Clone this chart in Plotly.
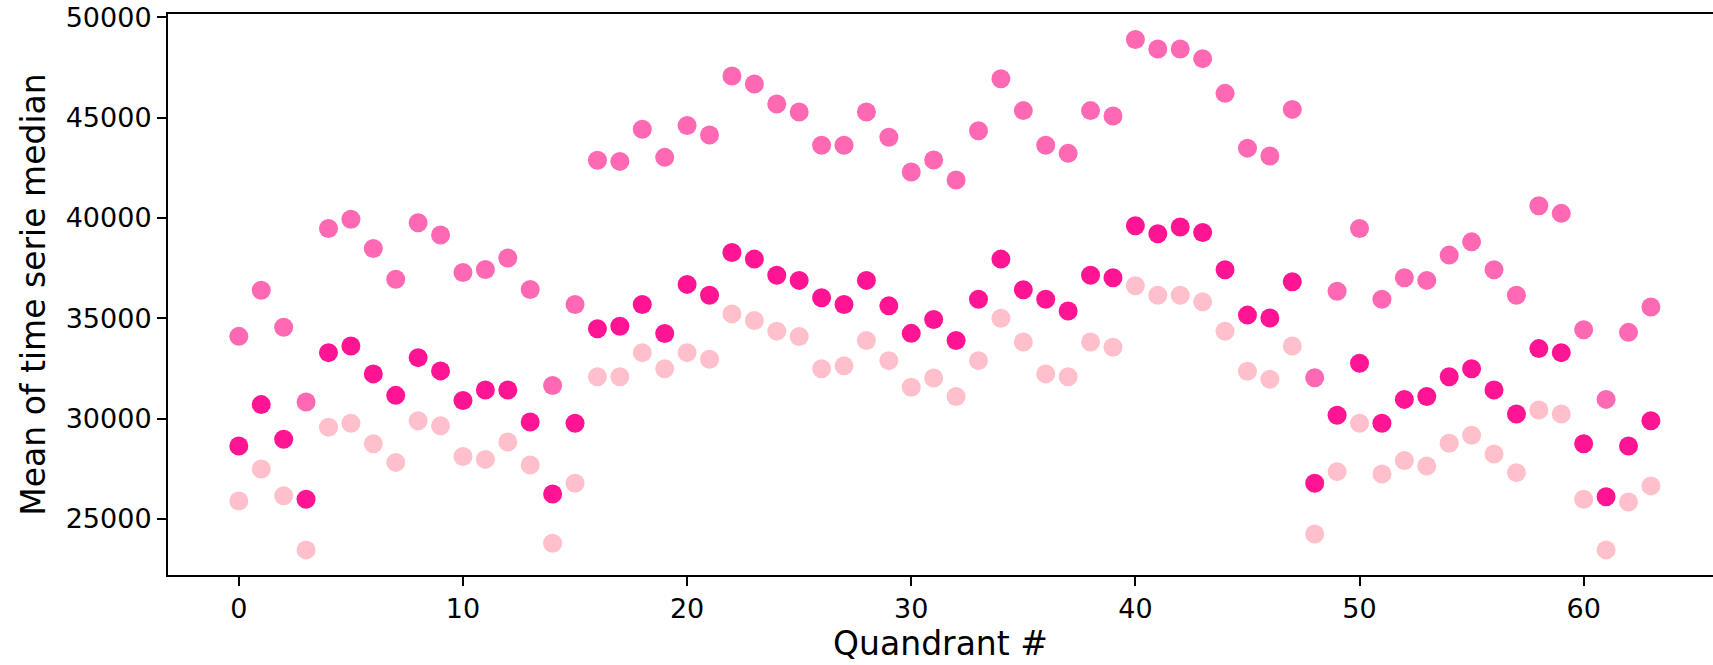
import plotly.graph_objects as go

quadrants = list(range(64))

upper_vals = [34100, 36400, 34550, 30830, 39480, 39940, 38480, 36950, 39760, 39150,
              37280, 37430, 38010, 36440, 31650, 35690, 42880, 42820, 44420, 43020,
              44610, 44130, 47070, 46680, 45680, 45280, 43620, 43620, 45280, 44020,
              42290, 42890, 41890, 44350, 46940, 45350, 43620, 43220, 45350, 45080,
              48890, 48420, 48420, 47940, 46210, 43480, 43090, 45410, 32040, 36350,
              39480, 35950, 37020, 36890, 38150, 38810, 37420, 36150, 40610, 40230,
              34430, 30960, 34300, 35560]

middle_vals = [28640, 30700, 28970, 25980, 33290, 33620, 32230, 31160, 33040, 32380,
               30900, 31430, 31430, 29830, 26250, 29770, 34480, 34600, 35690, 34240,
               36690, 36150, 38280, 37950, 37150, 36890, 36020, 35690, 36890, 35620,
               34250, 34940, 33890, 35950, 37950, 36420, 35950, 35360, 37150, 37020,
               39610, 39210, 39550, 39280, 37420, 35160, 35020, 36820, 26780, 30170,
               32760, 29770, 30960, 31100, 32090, 32490, 31430, 30230, 33490, 33290,
               28750, 26110, 28640, 29900]

lower_vals = [25900, 27490, 26160, 23460, 29570, 29770, 28750, 27820, 29900, 29640,
              28110, 27970, 28840, 27690, 23790, 26780, 32090, 32090, 33290, 32490,
              33290, 32960, 35220, 34890, 34360, 34090, 32490, 32630, 33890, 32890,
              31560, 32030, 31100, 32890, 35000, 33820, 32230, 32090, 33820, 33560,
              36620, 36150, 36150, 35820, 34360, 32360, 31960, 33620, 24250, 27360,
              29770, 27240, 27910, 27640, 28770, 29170, 28240, 27310, 30430, 30230,
              25980, 23460, 25850, 26650]

x_ticks = [0, 10, 20, 30, 40, 50, 60]
y_ticks = [25000, 30000, 35000, 40000, 45000, 50000]

series = [
    ("lower", lower_vals, "#ffc0cb"),
    ("middle", middle_vals, "#ff1493"),
    ("upper", upper_vals, "#ff69b4"),
]

fig = go.Figure()
for name, vals, color in series:
    fig.add_trace(go.Scatter(
        x=quadrants, y=vals, mode="markers", name=name,
        marker=dict(size=19, color=color, line=dict(width=0)),
        showlegend=False,
    ))

font_family = "DejaVu Sans"
fig.update_layout(
    width=1713, height=665,
    margin=dict(l=168, r=0, t=14, b=90),
    plot_bgcolor="white", paper_bgcolor="white",
    font=dict(family=font_family, color="black"),
    xaxis=dict(
        range=[-3.16, 65.77],
        tickmode="array", tickvals=x_ticks, ticktext=[str(v) for v in x_ticks],
        showgrid=False, zeroline=False,
        showline=True, linecolor="black", linewidth=2, mirror=True,
        ticks="outside", ticklen=9, tickwidth=2, tickcolor="black",
        tickfont=dict(size=27, family=font_family, color="black"),
        title=dict(text="Quandrant #", font=dict(size=33, family=font_family, color="black"), standoff=8),
    ),
    yaxis=dict(
        range=[22209, 50164],
        tickmode="array", tickvals=y_ticks, ticktext=[str(v) for v in y_ticks],
        showgrid=False, zeroline=False,
        showline=True, linecolor="black", linewidth=2, mirror=False,
        ticks="outside", ticklen=9, tickwidth=2, tickcolor="black",
        tickfont=dict(size=27, family=font_family, color="black"),
        title=dict(text="Mean of time serie median", font=dict(size=33, family=font_family, color="black"), standoff=10),
    ),
)

fig.write_html("out.html")
